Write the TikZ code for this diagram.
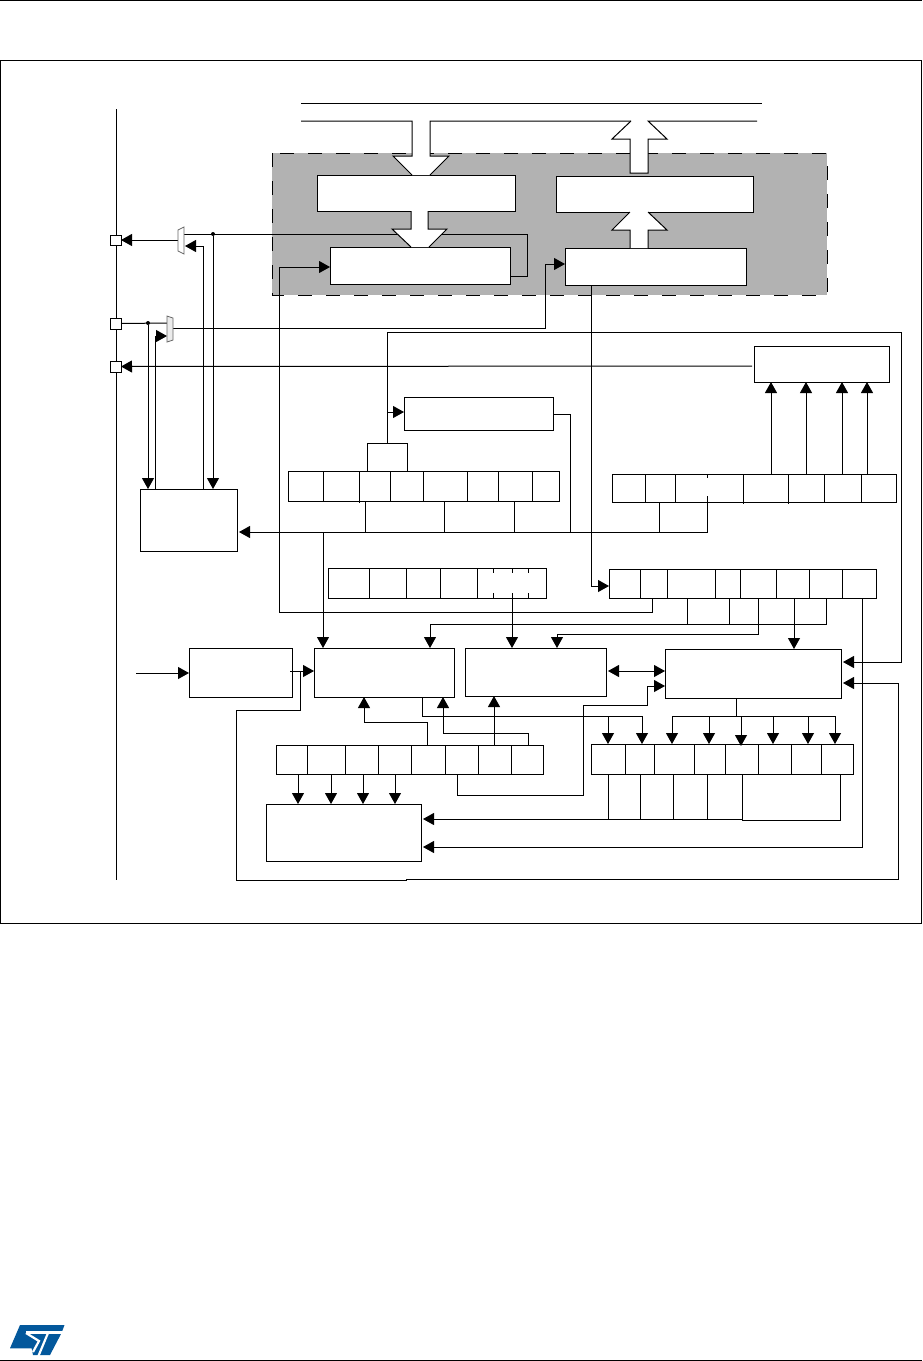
\documentclass[tikz,border=0pt]{standalone}
\usetikzlibrary{arrows.meta}
\definecolor{greyarea}{HTML}{B2B2B2}
\definecolor{stblue}{HTML}{03589C}
\tikzset{
  wire/.style={draw=black,line width=1pt,line join=miter},
  arr/.style={wire,-{Triangle[length=11pt,width=12pt]}},
  gaparr/.style={arr,shorten >=2pt},
  blk/.style={draw=black,fill=white,line width=1pt,inner sep=0pt,outer sep=0pt,anchor=north west},
  cell/.style={blk},
  pin/.style={blk},
  jdot/.style={circle,fill=black,inner sep=0pt,minimum size=4pt},
  muxshape/.style={draw=black!60,fill=white,line width=0.8pt},
  bigarrow/.style={fill=white,draw=none},
  bigedge/.style={draw=black,line width=1pt}
}
\newcommand{\blkat}[5]{\node[blk,minimum width={(#4-#2)*1pt},minimum height={(#5-#3)*1pt}] (#1) at (#2,#3) {};}
\newcommand{\cellrow}[4]{\foreach \xa/\xb [count=\i] in {#4} {\node[cell,minimum width={(\xb-\xa)*1pt},minimum height={(#3-#2)*1pt}] (#1-\i) at (\xa,#2) {};}}
\begin{document}
\begin{tikzpicture}[x=1pt,y=-1pt]
\useasboundingbox (0,0) rectangle (922,1361);
\fill[white] (0,0) rectangle (922,1361);
% page furniture
\draw[wire] (0,0.5) -- (922,0.5);
\draw[wire] (0,1360.5) -- (922,1360.5);
\draw[wire] (0.5,60) rectangle (921,923);
% logo
\fill[stblue] (20,1325) -- (64.5,1325) -- (61.5,1333) -- (50,1355) -- (33,1355) -- (31.7,1348.3) -- (10,1348.3) -- cycle;
\draw[white,line width=2.2pt] (26,1333) -- (39,1341) -- (33,1352);
\draw[white,line width=2.2pt] (26,1332.5) -- (63,1332.5);
\draw[white,line width=2.2pt] (48,1333) -- (38,1357);
% spine and bus
\draw[wire] (116,109) -- (116,880);
\draw[wire] (301,103) -- (762,103);
% grey area
\draw[fill=greyarea,draw=black,line width=1pt,dash pattern=on 14pt off 14pt] (272,153) rectangle (827,295);
% boxes
\blkat{A}{317}{175}{515}{211}
\blkat{B}{556}{176}{753}{212}
\blkat{C}{330}{247}{510}{284}
\blkat{D}{565}{248}{746}{285}
\blkat{E}{754}{346}{889}{382}
\blkat{F}{404}{397}{553}{430}
\blkat{ctrl}{140}{489}{237}{551}
\blkat{I}{189}{648}{292}{697}
\blkat{G}{314}{648}{454}{697}
\blkat{H}{465}{648}{606}{696}
\blkat{J}{665}{649}{841}{698}
\blkat{L}{266}{804}{421}{861}
% registers
\cellrow{r1}{471}{501}{288/323,323/359,359/390,390/423,423/467,467/498,498/532,532/559}
\cellrow{r2}{568}{598}{328/369,369/406,406/440,440/477,477/546}
\cellrow{r3}{745}{774}{276/307,307/345,345/378,378/411,411/445,445/478,478/511,511/543}
\cellrow{r4}{474}{502}{612/645,645/675,675/743,743/788,788/824,824/861,861/896}
\cellrow{r5}{569}{598}{609/640,640/667,667/715,715/740,740/776,776/809,809/842,842/876}
\cellrow{r6}{744}{774}{591/625,625/654,654/694,694/725,725/758,758/791,791/821,821/853}
% ticks inside registers
\foreach \tx in {493,512,528} {
  \draw[wire] (\tx,568) -- (\tx,573);
  \draw[wire] (\tx,593) -- (\tx,598);
}
\draw[wire] (707,474) -- (707,478);
\draw[wire] (707,496) -- (707,502);
\draw[wire] (743,502) -- (743,504);
\draw[wire] (788,502) -- (788,504);
\draw[wire] (359,501) -- (359,503);
% pins
\node[pin,minimum width=11pt,minimum height=10pt] (p1) at (110,235) {};
\node[pin,minimum width=11pt,minimum height=11pt] (p2) at (110,318) {};
\node[pin,minimum width=11pt,minimum height=11pt] (p3) at (110,361) {};
% multiplexers
\coordinate (mux1w) at (178,240);
\coordinate (mux1a) at (184,234);
\coordinate (mux1b) at (185,246);
\coordinate (mux2w) at (167,323);
\coordinate (mux2b) at (167,336);
\coordinate (mux2e) at (173,328);
\node[jdot] (dot1) at (213,234) {};
\node[jdot] (dot2) at (148,323) {};
% wires
\draw[arr] (mux1w) -- (p1.east);
\draw[wire] (mux1a) -- (527,234) -- (527,276) -- (C.east |- 0,276);
\draw[arr] (dot1) -- (ctrl.north -| dot1);
\draw[arr] (ctrl.north -| 203,0) -- (203,246) -- (mux1b);
\draw[wire] (p2.east) -- (mux2w);
\draw[arr] (dot2) -- (ctrl.north -| dot2);
\draw[arr] (ctrl.north -| 155,0) -- (155,336) -- (mux2b);
\draw[arr] (mux2e) -- (545,328) -- (545,264) -- (D.west |- 0,264);
\draw[arr,shorten <=2pt] (E.west |- 0,366) -- (p3.east);
\draw[wire] (r1-3.north -| 367,0) -- (367,443) -- (407,443) -- (r1-4.north -| 407,0);
\coordinate (jr) at (387,443);
\draw[gaparr] (jr) -- (387,332) -- (901,332) -- (901,662) -- (J.east |- 0,662);
\draw[arr] (387,412) -- (F.west |- 0,412);
\draw[wire] (F.east |- 0,414) -- (570,414) -- (570,532) -- (707,532) -- (r4-3.south -| 707,0);
\draw[wire] (659,532) -- (r4-3.south -| 659,0);
\draw[gaparr] (570,532) -- (ctrl.east |- 0,532);
\draw[arr] (323,532) -- (G.north -| 323,0);
\draw[wire] (r1-3.south -| 365,0) -- (365,532);
\draw[wire] (r1-5.south -| 444,0) -- (444,532);
\draw[wire] (r1-7.south -| 514,0) -- (514,532);
\draw[arr] (r5-2.south -| 652,0) -- (652,612) -- (279,612) -- (279,267) -- (C.west |- 0,267);
\draw[arr] (D.south -| 591,0) -- (591,586) -- (r5-1.west |- 0,586);
\draw[arr] (r4-3.north -| 771,0) -- (E.south -| 771,0);
\draw[arr] (r4-4.north -| 806,0) -- (E.south -| 806,0);
\draw[arr] (r4-5.north -| 842,0) -- (E.south -| 842,0);
\draw[arr] (r4-6.north -| 867,0) -- (E.south -| 867,0);
\draw[arr] (r5-7.south -| 826,0) -- (826,624) -- (430,624) -- (G.north -| 430,0);
\draw[wire] (r5-3.south -| 687,0) -- (687,624);
\draw[wire] (r5-4.south -| 729,0) -- (729,624);
\draw[arr] (r5-5.south -| 758,0) -- (758,634) -- (557,634) -- (H.north -| 557,0);
\draw[arr] (r5-6.south -| 794,0) -- (J.north -| 794,0);
\draw[gaparr] (r5-8.south -| 862,0) -- (862,847) -- (L.east |- 0,847);
\draw[arr] (r2-5.south -| 512,0) -- (H.north -| 512,0);
\coordinate (input) at (136,673);
\draw[arr] (input) -- (I.west |- input);
\draw[arr] (290,671) -- (G.west |- 0,671);
\draw[gaparr] (300,671) -- (300,710) -- (236,710) -- (236,880) -- (406,880) -- (406,879) -- (898,879) -- (898,683) -- (J.east |- 0,683);
\draw[wire,{Triangle[length=11pt,width=12pt]}-{Triangle[length=11pt,width=12pt]}] (H.east |- 0,671) ++(2,0) -- (J.west |- 0,671);
\draw[arr] (r3-5.north -| 427,0) -- (427,722) -- (364,722) -- (G.south -| 364,0);
\draw[arr] (r3-7.north -| 494,0) -- (H.south -| 494,0);
\draw[arr] (r3-8.north -| 528,0) -- (528,733) -- (443,733) -- (G.south -| 443,0);
\draw[wire] (G.south -| 422,0) -- (422,716) -- (642,716);
\draw[arr] (608,716) -- (r6-1.north -| 608,0);
\draw[arr] (642,716) -- (r6-2.north -| 642,0);
\draw[wire] (J.south -| 736,0) -- (736,716);
\draw[wire] (672,716) -- (836,716);
\draw[arr] (672,716) -- (r6-3.north -| 672,0);
\draw[arr] (709,716) -- (r6-4.north -| 709,0);
\draw[arr] (741,716) -- (741,746);
\draw[arr] (773,716) -- (r6-6.north -| 773,0);
\draw[arr] (808,716) -- (r6-7.north -| 808,0);
\draw[arr] (835,716) -- (r6-8.north -| 835,0);
\draw[arr] (r3-1.south -| 298,0) -- (L.north -| 298,0);
\draw[arr] (r3-2.south -| 331,0) -- (L.north -| 331,0);
\draw[arr] (r3-3.south -| 363,0) -- (L.north -| 363,0);
\draw[arr] (r3-4.south -| 395,0) -- (L.north -| 395,0);
\draw[arr] (r3-6.south -| 457,0) -- (457,795) -- (583,795) -- (583,705) -- (647,705) -- (647,686) -- (J.west |- 0,686);
\draw[gaparr] (742,819) -- (L.east |- 0,819);
\draw[wire] (r6-1.south -| 608,0) -- (608,819);
\draw[wire] (r6-2.south -| 640,0) -- (640,819);
\draw[wire] (r6-3.south -| 673,0) -- (673,819);
\draw[wire] (r6-4.south -| 707,0) -- (707,819);
\draw[wire] (r6-5.south -| 742,0) -- (742,820) -- (840,820) -- (r6-8.south -| 840,0);
% mux shapes
\draw[muxshape] (178,230) -- (184,227) -- (184,254) -- (178,251) -- cycle;
\draw[muxshape,fill=black!8] (167,316) -- (173,318) -- (173,340) -- (167,342) -- cycle;
% block arrows
\fill[bigarrow] (412,121) -- (412,156) -- (393,156) -- (412,175) -- (430,175) -- (449,156) -- (430,156) -- (430,121) -- cycle;
\draw[bigedge] (301,121) -- (412,121) -- (412,156) -- (393,156) -- (412,175);
\draw[bigedge] (430,175) -- (449,156) -- (430,156) -- (430,121) -- (631,121);
\fill[bigarrow] (631,121) -- (612,139) -- (630,139) -- (630,173) -- (648,173) -- (648,139) -- (667,139) -- (648,121) -- cycle;
\draw[bigedge] (631,121) -- (612,139) -- (630,139) -- (630,173) -- (648,173) -- (648,139) -- (667,139) -- (648,121) -- (757,121);
\fill[bigarrow] (411,211) -- (411,229) -- (392,229) -- (411,247) -- (429,247) -- (447,229) -- (428,229) -- (428,211) -- cycle;
\draw[bigedge] (411,211) -- (411,229) -- (392,229) -- (411,247);
\draw[bigedge] (428,211) -- (428,229) -- (447,229) -- (429,247);
\fill[bigarrow] (630,248) -- (630,230) -- (612,230) -- (630,212) -- (648,212) -- (667,230) -- (648,230) -- (648,248) -- cycle;
\draw[bigedge] (630,248) -- (630,230) -- (612,230) -- (630,212);
\draw[bigedge] (648,212) -- (667,230) -- (648,230) -- (648,248);
\end{tikzpicture}
\end{document}
